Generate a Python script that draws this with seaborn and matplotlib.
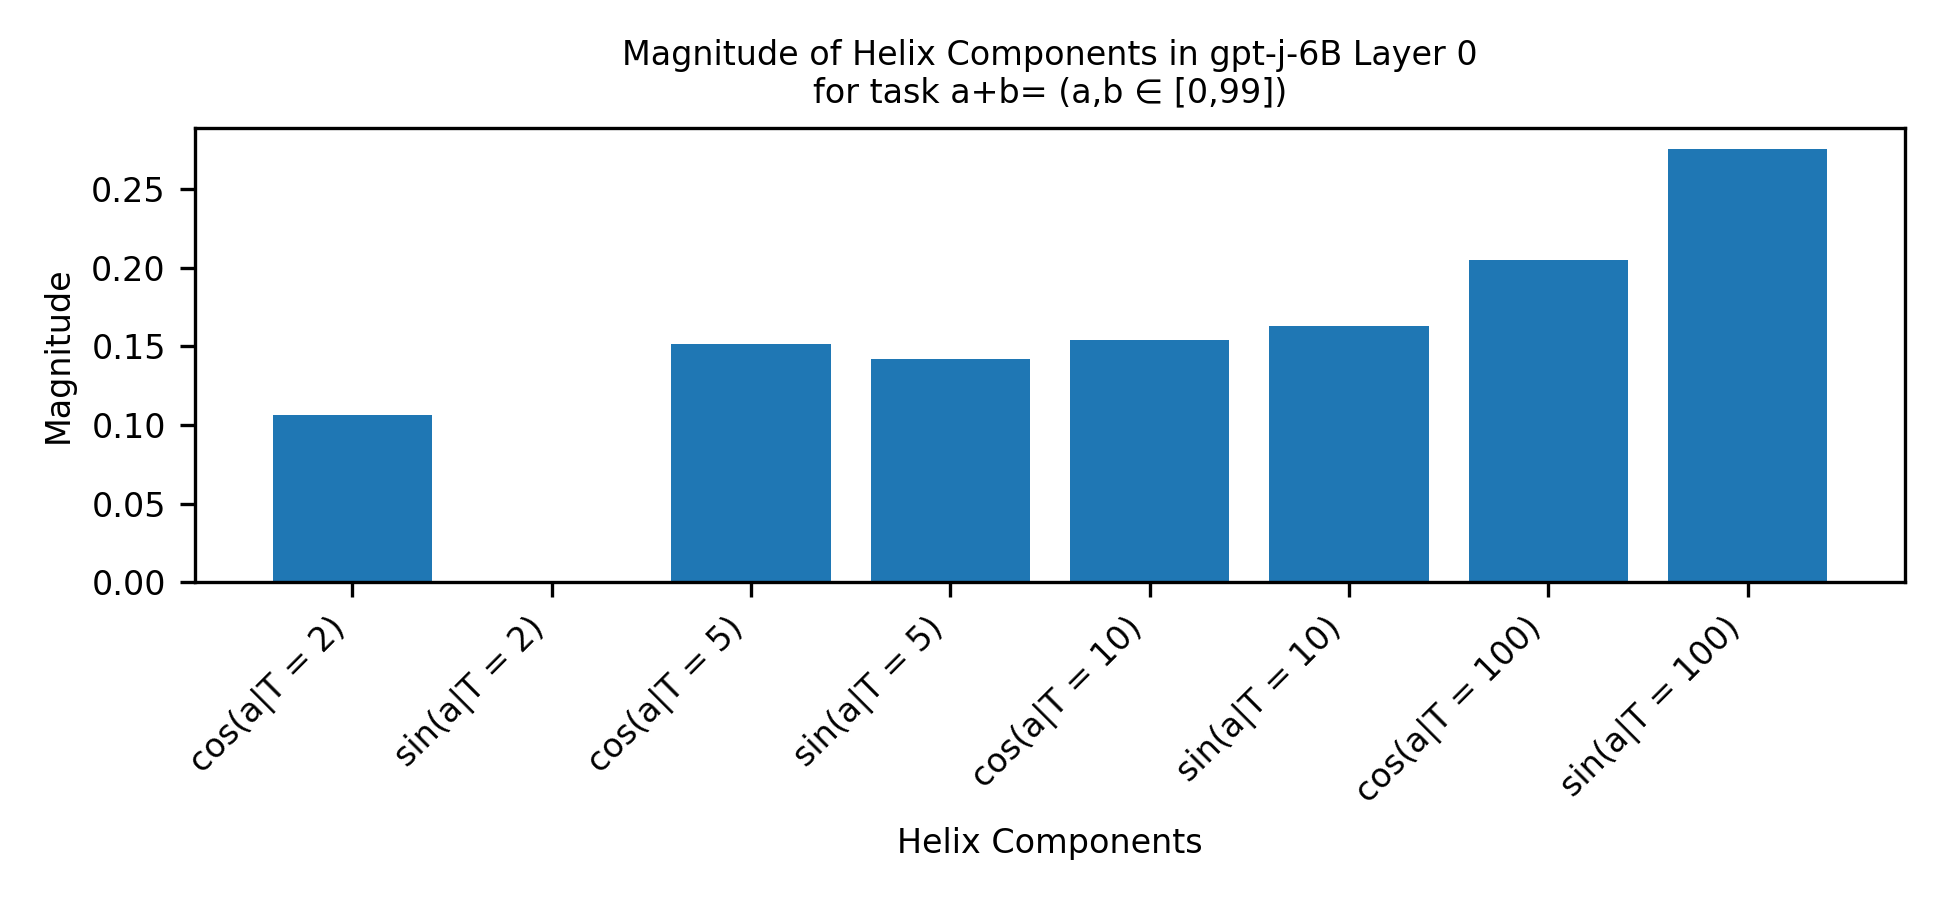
import numpy as np
import pandas as pd
import matplotlib
matplotlib.use("Agg")
import matplotlib.pyplot as plt
import seaborn as sns

# helix components and their magnitudes (layer 0)
components = ['cos(a|T = 2)', 'sin(a|T = 2)', 'cos(a|T = 5)', 'sin(a|T = 5)',
              'cos(a|T = 10)', 'sin(a|T = 10)', 'cos(a|T = 100)', 'sin(a|T = 100)']
magnitudes = [0.1065, 0.0, 0.1518, 0.1422, 0.1542, 0.1630, 0.2048, 0.2752]

df = pd.DataFrame({'component': components, 'magnitude': magnitudes})

plt.rcParams['font.size'] = 8
plt.rcParams['axes.titlesize'] = 8
fig, ax = plt.subplots(figsize=(6.5, 3), dpi=300)

sns.barplot(data=df, x='component', y='magnitude', color='#1f77b4',
            saturation=1, width=0.8, ax=ax)

ax.set_xlim(-0.79, len(components) - 1 + 0.79)
ax.set_ylim(0, max(magnitudes) * 1.05)
ax.set_title('Magnitude of Helix Components in gpt-j-6B Layer 0\nfor task a+b= (a,b ∈ [0,99])')
ax.set_xlabel('Helix Components')
ax.set_ylabel('Magnitude')
plt.setp(ax.get_xticklabels(), rotation=45, ha='right', rotation_mode='default')

fig.subplots_adjust(left=0.1, right=0.977, top=0.858, bottom=0.353)
fig.savefig('out.png', dpi=300)
